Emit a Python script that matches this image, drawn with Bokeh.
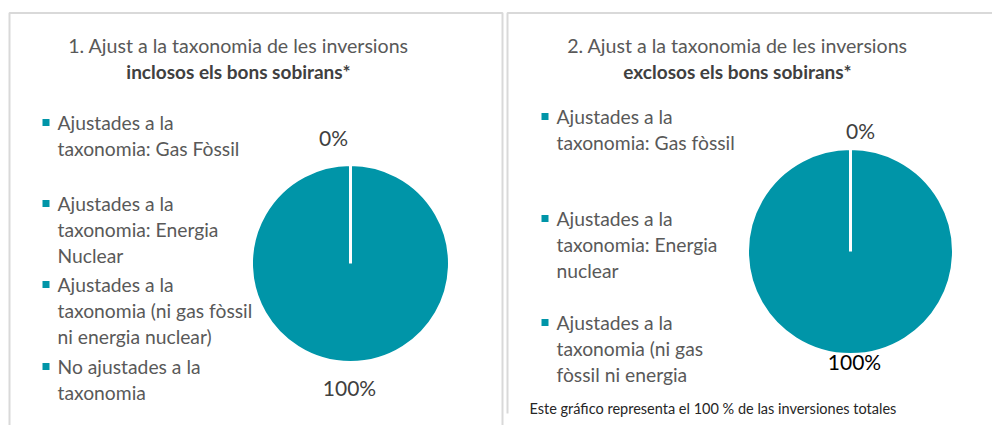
import math
from bokeh.plotting import figure
from bokeh.models import Range1d
from bokeh.core.properties import value
from bokeh.embed import file_html
from bokeh.resources import INLINE

# ---------------- data ----------------
title_1 = "1. Ajust a la taxonomia de les inversions"
subtitle_1 = "inclosos els bons sobirans*"
title_2 = "2. Ajust a la taxonomia de les inversions"
subtitle_2 = "exclosos els bons sobirans*"

categories_1 = [
    "Ajustades a la taxonomia: Gas Fòssil",
    "Ajustades a la taxonomia: Energia Nuclear",
    "Ajustades a la taxonomia (ni gas fòssil ni energia nuclear)",
    "No ajustades a la taxonomia",
]
values_1 = [0, 0, 0, 100]
legend_lines_1 = [
    ["Ajustades a la", "taxonomia: Gas Fòssil"],
    ["Ajustades a la", "taxonomia: Energia", "Nuclear"],
    ["Ajustades a la", "taxonomia (ni gas fòssil", "ni energia nuclear)"],
    ["No ajustades a la", "taxonomia"],
]

categories_2 = [
    "Ajustades a la taxonomia: Gas fòssil",
    "Ajustades a la taxonomia: Energia nuclear",
    "Ajustades a la taxonomia (ni gas fòssil ni energia nuclear)",
    "No ajustades a la taxonomia",
]
values_2 = [0, 0, 0, 100]
legend_lines_2 = [
    ["Ajustades a la", "taxonomia: Gas fòssil"],
    ["Ajustades a la", "taxonomia: Energia", "nuclear"],
    ["Ajustades a la", "taxonomia (ni gas", "fòssil ni energia"],
]

footnote = "Este gráfico representa el 100 % de las inversiones totales"

# ---------------- styling ----------------
W, H = 992, 425
FONT = "Lato"
TEAL = "#0095a8"
GRAY = "#595959"
DARK = "#404040"
BORDER = "#d9d9d9"


def Y(py):
    # pixel y from top -> data y
    return H - py


p = figure(width=W, height=H, output_backend="svg", toolbar_location=None,
           x_range=Range1d(0, W), y_range=Range1d(0, H),
           min_border=0, outline_line_color=None, background_fill_color="white")
p.axis.visible = False
p.grid.visible = False

# panel borders
p.multi_line(xs=[[9, 9, 502, 502], [507, 507, 992]],
             ys=[[Y(430), Y(12.5), Y(12.5), Y(430)], [Y(413), Y(12.5), Y(12.5)]],
             line_color=BORDER, line_width=2)


def draw_panel(cx, cy, r, vals, title, subtitle, tcx, legend_lines, lx, legend_ys,
               zero_pos, full_pos, full_color):
    # titles
    p.text(x=[tcx], y=[Y(45)], text=[title], text_font=value(FONT), text_font_size="19.6px",
           text_color=GRAY, text_align="center", text_baseline="middle")
    p.text(x=[tcx], y=[Y(71)], text=[subtitle], text_font=value(FONT), text_font_size="19px",
           text_font_style="bold", text_color=DARK, text_align="center", text_baseline="middle")
    # pie
    total = float(sum(vals))
    starts, ends = [], []
    cum = 0.0
    for v in vals:
        span = v / total * 2 * math.pi
        span = min(span, 2 * math.pi - 1e-4)
        s = math.pi / 2 - cum / total * 2 * math.pi
        starts.append(s)
        ends.append(s - span)
        cum += v
    n = len(vals)
    p.wedge(x=[cx] * n, y=[Y(cy)] * n, radius=r, radius_units="screen",
            start_angle=starts, end_angle=ends, direction="clock",
            fill_color=TEAL, line_color="white", line_width=3)
    # labels
    zero_done = False
    for v in vals:
        if v == 0:
            if zero_done:
                continue
            zero_done = True
            pos, col = zero_pos, DARK
        else:
            pos, col = full_pos, full_color
        p.text(x=[pos[0]], y=[Y(pos[1])], text=[f"{v}%"], text_font=value(FONT),
               text_font_size="21px", text_color=col, text_align="center",
               text_baseline="middle")
    # legend
    for lines, y0 in zip(legend_lines, legend_ys):
        p.scatter(x=[lx - 11.5], y=[Y(y0)], marker="square", size=7,
                  fill_color=TEAL, line_color=None)
        for i, t in enumerate(lines):
            p.text(x=[lx], y=[Y(y0 + i * 26)], text=[t], text_font=value(FONT),
                   text_font_size="19.3px", text_color=GRAY, text_align="left",
                   text_baseline="middle")


draw_panel(350, 263, 99, values_1, title_1, subtitle_1, 238, legend_lines_1, 57,
           [122, 203, 284, 366], (333, 137), (349, 387), DARK)
draw_panel(850, 251, 103, values_2, title_2, subtitle_2, 737, legend_lines_2, 556,
           [116, 218, 322], (860, 130), (854, 361), "#000000")

p.text(x=[529], y=[Y(408)], text=[footnote], text_font=value(FONT), text_font_size="14.5px",
       text_color="#262626", text_align="left", text_baseline="middle")

open("out.html", "w").write(file_html(p, INLINE))
